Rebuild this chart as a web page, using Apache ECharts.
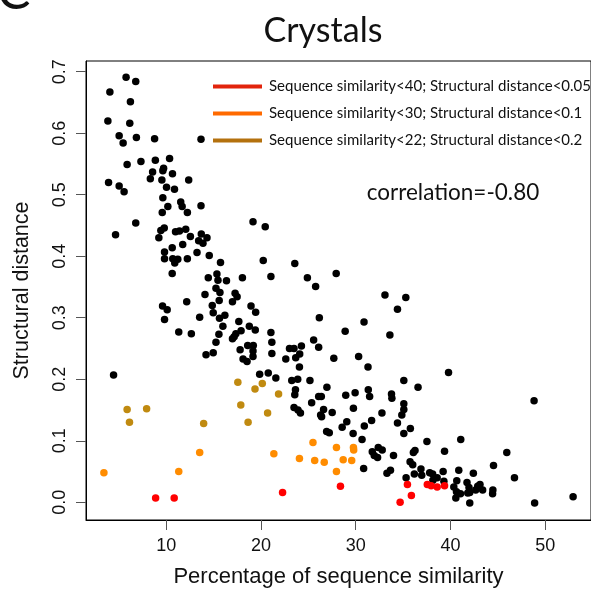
<!DOCTYPE html>
<html>
<head>
<meta charset="utf-8">
<script src="https://cdn.jsdelivr.net/npm/echarts@6/dist/echarts.min.js"></script>
<style>html,body{margin:0;padding:0;background:#fff;}#c{width:591px;height:598px;}</style>
</head>
<body>
<div id="c"></div>
<script>
const xTicks = [10, 20, 30, 40, 50];
const yTicks = [0, 0.1, 0.2, 0.3, 0.4, 0.5, 0.6, 0.7];

const blackSim = [5.76,6.78,4.05,6.22,3.84,6.15,5.03,6.85,8.77,13.67,5.45,5.87,7.33,8.85,10.35,8.56,9.72,9.64,10.66,12.37,8.32,9.54,3.91,5.03,5.55,10.03,10.87,9.64,11.53,11.68,10.17,13.67,9.58,12.23,4.44,4.65,6.78,
19.16,20.45,9.79,9.43,10.98,11.40,12.06,9.22,12.55,13.70,14.30,13.42,13.88,11.74,10.63,9.82,13.25,9.82,10.69,11.22,10.90,12.23,14.54,15.73,20.24,23.57,10.63,15.35,14.44,15.46,16.36,18.04,21.05,24.90,27.94,25.77,15.25,15.67,14.09,17.27,17.48,15.59,16.99,12.16,14.86,18.95,19.44,9.61,10.10,14.96,15.62,16.19,13.53,9.82,26.16,17.66,18.77,15.98,17.90,19.40,11.32,12.65,15.56,21.05,17.35,17.17,16.99,25.56,15.25,18.60,19.19,21.15,23.01,23.49,24.27,26.09,17.80,19.16,14.96,14.20,21.15,24.09,23.67,27.69,19.16,18.11,22.62,18.53,19.86,
33.09,35.29,34.41,30.88,28.89,33.61,30.31,31.30,24.06,20.77,21.57,23.25,23.88,25.17,26.96,35.08,36.58,23.64,23.57,26.09,26.37,28.95,29.94,31.33,31.47,33.78,33.82,25.35,23.49,23.91,24.17,26.61,29.76,26.30,26.40,27.52,32.77,35.08,35.08,34.87,29.06,31.68,30.91,34.41,28.57,35.77,26.93,27.21,29.73,35.08,30.67,37.52,32.38,32.80,31.75,31.96,32.31,36.26,36.09,35.74,36.02,30.84,33.67,33.30,36.19,36.89,36.97,37.81,38.12,35.32,
39.80,48.83,41.09,39.38,45.95,33.99,39.23,40.88,42.42,44.55,46.76,38.15,38.60,39.31,40.36,40.67,41.75,41.96,41.83,40.64,40.57,41.06,42.04,42.88,43.12,43.40,42.67,44.48,44.45,42.04,48.89,52.95];
const blackDist = [0.691,0.684,0.667,0.651,0.620,0.616,0.596,0.593,0.591,0.590,0.584,0.549,0.554,0.556,0.559,0.537,0.543,0.539,0.534,0.524,0.526,0.524,0.520,0.514,0.505,0.512,0.509,0.495,0.488,0.481,0.481,0.482,0.471,0.471,0.207,0.435,0.454,
0.456,0.448,0.446,0.442,0.440,0.441,0.444,0.430,0.432,0.436,0.430,0.425,0.421,0.419,0.414,0.407,0.406,0.396,0.396,0.395,0.389,0.396,0.401,0.390,0.393,0.388,0.372,0.371,0.365,0.361,0.360,0.365,0.367,0.365,0.372,0.351,0.348,0.341,0.338,0.340,0.334,0.328,0.326,0.326,0.320,0.319,0.309,0.319,0.313,0.308,0.299,0.304,0.301,0.297,0.300,0.294,0.286,0.286,0.279,0.280,0.277,0.274,0.273,0.276,0.274,0.269,0.266,0.264,0.260,0.255,0.255,0.260,0.250,0.250,0.254,0.252,0.248,0.246,0.243,0.240,0.242,0.241,0.235,0.234,0.237,0.233,0.233,0.229,0.208,
0.337,0.333,0.314,0.293,0.278,0.272,0.237,0.220,0.220,0.210,0.202,0.198,0.200,0.198,0.187,0.198,0.187,0.183,0.175,0.172,0.172,0.174,0.178,0.183,0.172,0.176,0.169,0.162,0.154,0.150,0.145,0.151,0.153,0.142,0.139,0.146,0.145,0.160,0.151,0.142,0.131,0.133,0.124,0.129,0.122,0.120,0.115,0.113,0.112,0.112,0.102,0.099,0.089,0.085,0.082,0.076,0.073,0.084,0.081,0.066,0.061,0.055,0.052,0.047,0.046,0.054,0.044,0.048,0.046,0.040,
0.211,0.165,0.102,0.083,0.081,0.076,0.050,0.052,0.047,0.060,0.040,0.036,0.040,0.034,0.025,0.035,0.032,0.024,0.015,0.017,0.007,0.014,0.016,0.026,0.029,0.020,0.020,0.020,0.014,-0.001,-0.001,0.009];

const redSim = [8.88,10.84,22.28,28.39,34.69,35.46,35.88,37.56,37.97,38.60,39.38];
const redDist = [0.007,0.007,0.016,0.026,0.000,0.029,0.011,0.029,0.027,0.025,0.027];
const orangeSim = [3.42,11.32,13.53,25.49,27.97,29.76,29.79,21.36,24.06,25.67,26.68,28.68,29.58,27.97];
const orangeDist = [0.048,0.050,0.081,0.097,0.089,0.089,0.085,0.079,0.071,0.068,0.065,0.069,0.068,0.050];
const goldSim = [5.87,7.93,6.12,13.95,17.56,17.87,18.64,19.37,20.14,21.86,20.70];
const goldDist = [0.151,0.152,0.130,0.128,0.195,0.158,0.130,0.184,0.193,0.176,0.145];

const legendNames = [
  'Sequence similarity<40; Structural distance<0.05',
  'Sequence similarity<30; Structural distance<0.1',
  'Sequence similarity<22; Structural distance<0.2'
];

const zip = (a, b) => a.map((v, i) => [v, b[i]]);

const chart = echarts.init(document.getElementById('c'), null, {renderer: 'canvas'});
const axisFont = 'Liberation Sans, Arial, Helvetica, sans-serif';
const titleFont = 'Lato, sans-serif';

chart.setOption({
  animation: false,
  backgroundColor: '#fff',
  grid: {left: 86, top: 61, right: -3, bottom: 78, show: true, borderColor: '#000', borderWidth: 1, containLabel: false},
  legend: {
    orient: 'vertical', left: 208, top: 74, itemWidth: 49, itemHeight: 4, itemGap: 12, icon: 'rect',
    textStyle: {fontFamily: titleFont, fontSize: 15, color: '#111', lineHeight: 15, padding: [0, 0, 0, 2]},
    data: [
      {name: legendNames[0], itemStyle: {color: '#E2240C'}},
      {name: legendNames[1], itemStyle: {color: '#FF6A00'}},
      {name: legendNames[2], itemStyle: {color: '#B4710E'}}
    ],
    selectedMode: false
  },
  xAxis: {
    type: 'value', min: 1.53, max: 54.84,
    axisLine: {show: true, onZero: false, lineStyle: {color: '#000'}},
    axisTick: {show: true, length: 10, lineStyle: {color: '#555'}, customValues: xTicks},
    axisLabel: {fontFamily: axisFont, fontSize: 18, color: '#111', margin: 17, customValues: xTicks},
    splitLine: {show: false},
    name: 'Percentage of sequence similarity', nameLocation: 'middle', nameGap: 46,
    nameTextStyle: {fontFamily: axisFont, fontSize: 22, color: '#111'}
  },
  yAxis: {
    type: 'value', min: -0.0288, max: 0.7174,
    axisLine: {show: true, onZero: false, lineStyle: {color: '#000'}},
    axisTick: {show: true, length: 10, lineStyle: {color: '#555'}, customValues: yTicks},
    axisLabel: {fontFamily: axisFont, fontSize: 18, color: '#111', margin: 17, rotate: 90,
      customValues: yTicks, formatter: v => v.toFixed(1)},
    splitLine: {show: false},
    name: 'Structural distance', nameLocation: 'middle', nameGap: 53, nameRotate: 90,
    nameTextStyle: {fontFamily: axisFont, fontSize: 21.5, color: '#111'}
  },
  graphic: [
    {type: 'text', x: 323, y: 31, style: {text: 'Crystals', font: '34px Lato, sans-serif', fill: '#111', textAlign: 'center', textVerticalAlign: 'middle'}},
    {type: 'text', x: 453, y: 193, style: {text: 'correlation=-0.80', font: '22.5px Lato, sans-serif', fill: '#111', textAlign: 'center', textVerticalAlign: 'middle'}},
    {type: 'text', x: -3, y: -7, style: {text: 'C', font: '50px Lato, sans-serif', fill: '#111', textAlign: 'left', textVerticalAlign: 'middle'}}
  ],
  series: [
    {type: 'scatter', name: 'all', data: zip(blackSim, blackDist), symbolSize: 7.5, itemStyle: {color: '#000', opacity: 1}, z: 2},
    {type: 'scatter', name: legendNames[2], data: zip(goldSim, goldDist), symbolSize: 7.5, itemStyle: {color: '#C08A10', opacity: 1}, z: 3},
    {type: 'scatter', name: legendNames[1], data: zip(orangeSim, orangeDist), symbolSize: 7.5, itemStyle: {color: '#FF8C00', opacity: 1}, z: 3},
    {type: 'scatter', name: legendNames[0], data: zip(redSim, redDist), symbolSize: 7.5, itemStyle: {color: '#FF0000', opacity: 1}, z: 3}
  ]
});
</script>
</body>
</html>
